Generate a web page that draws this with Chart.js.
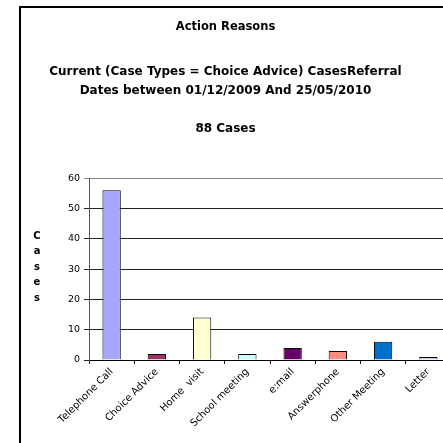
<!DOCTYPE html>
<html>
<head>
<meta charset="utf-8">
<script src="https://cdn.jsdelivr.net/npm/chart.js@4"></script>
<style>
  html, body { margin: 0; padding: 0; background: #fff; overflow: hidden; width: 443px; height: 443px; }
  #frame { position: absolute; left: 19px; top: 6px; width: 600px; height: 600px; border: 2px solid #000; box-sizing: border-box; }
  #wrap { position: absolute; left: 0; top: 0; }
</style>
</head>
<body>
<div id="frame"></div>
<div id="wrap"><canvas id="actionChart" width="470" height="443"></canvas></div>
<script>
// Data
const reasons = ['Telephone Call', 'Choice Advice', 'Home  visit', 'School meeting', 'e:mail', 'Answerphone', 'Other Meeting', 'Letter'];
const caseCounts = [56, 2, 14, 2, 4, 3, 6, 1];
const barColors = ['#A6A6FF', '#993366', '#FFFFD0', '#CCFFFF', '#660066', '#FF8C80', '#0070CC', '#C8C8F0'];
const yTicks = [0, 10, 20, 30, 40, 50, 60];

// vertical stacked "Cases" label to the left of the axis
const stackedAxisTitle = {
    id: 'stackedAxisTitle',
    afterDraw(chart) {
        const ctx = chart.ctx;
        ctx.save();
        ctx.font = 'bold 10px "DejaVu Sans"';
        ctx.fillStyle = '#000';
        ctx.textAlign = 'center';
        ctx.textBaseline = 'middle';
        'Cases'.split('').forEach((ch, i) => ctx.fillText(ch, 37, 236 + i * 15.5));
        ctx.restore();
    }
};

new Chart(document.getElementById('actionChart'), {
    type: 'bar',
    data: {
        labels: reasons,
        datasets: [{
            label: 'Cases',
            data: caseCounts,
            backgroundColor: barColors,
            borderColor: '#000',
            borderWidth: 1,
            categoryPercentage: 1,
            barPercentage: 0.405
        }]
    },
    options: {
        responsive: false,
        animation: false,
        layout: { padding: { left: 0, right: 19, top: 0, bottom: 0 } },
        plugins: {
            legend: { display: false },
            tooltip: { enabled: false },
            title: {
                display: true,
                text: 'Action Reasons',
                color: '#000',
                font: { family: 'DejaVu Sans', size: 11.5, weight: 'bold', lineHeight: 1.2 },
                padding: { top: 20, bottom: 0 }
            },
            subtitle: {
                display: true,
                text: ['Current (Case Types = Choice Advice) CasesReferral', 'Dates between 01/12/2009 And 25/05/2010', '', '88 Cases'],
                color: '#000',
                font: { family: 'DejaVu Sans', size: 12, weight: 'bold', lineHeight: 1.58 },
                padding: { top: 28.5, bottom: 40 }
            }
        },
        scales: {
            x: {
                grid: { offset: true, drawOnChartArea: false, tickLength: 4, color: '#000' },
                border: { color: '#000', width: 1 },
                ticks: {
                    color: '#000',
                    font: { family: 'DejaVu Sans', size: 10 },
                    minRotation: 45,
                    maxRotation: 45,
                    autoSkip: false,
                    padding: 2
                },
                afterFit: scale => { scale.height = 83; }
            },
            y: {
                min: 0,
                max: 60,
                afterBuildTicks: scale => { scale.ticks = yTicks.map(v => ({ value: v })); },
                grid: {
                    tickLength: 5,
                    color: ctx => ctx.tick && ctx.tick.value === 60 ? '#8a8a8a' : '#222'
                },
                border: { color: '#555', width: 1 },
                ticks: {
                    color: '#000',
                    font: { family: 'DejaVu Sans', size: 9.5 },
                    padding: 4
                },
                afterFit: scale => { scale.width = 89; }
            }
        }
    },
    plugins: [stackedAxisTitle]
});
</script>
</body>
</html>
